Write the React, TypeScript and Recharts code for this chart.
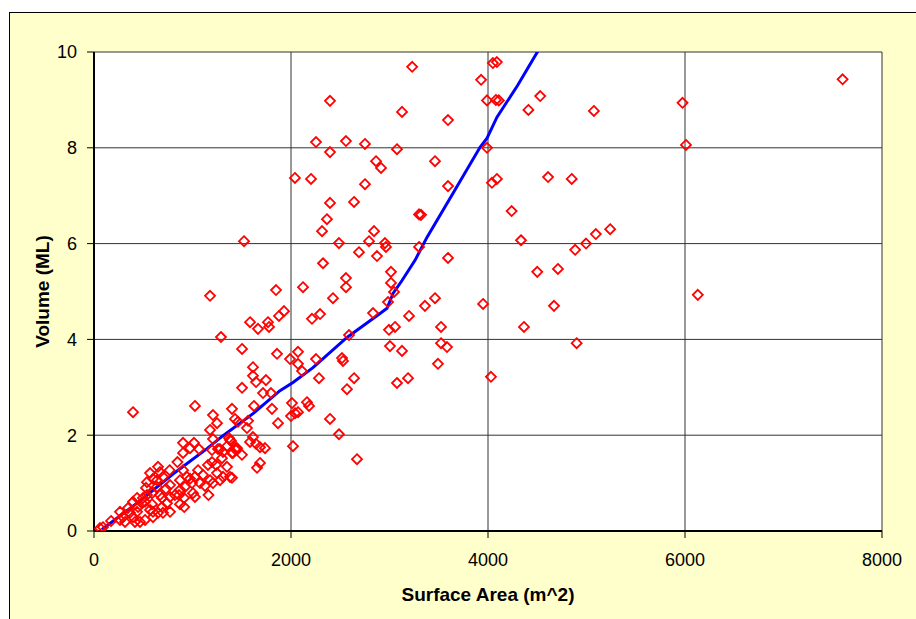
import {
  CartesianGrid,
  ComposedChart,
  Line,
  Scatter,
  XAxis,
  YAxis,
} from 'recharts'

// surveyed dams: surface area (m^2) vs volume (ML)
const damArea = [
  7600, 5975, 6010, 6130, 5075, 5240, 5095, 4995, 4885, 4900, 4850, 4610, 4530, 4410, 4240, 4335, 4365, 4500, 4710, 4670,
  3950, 4030, 4050, 4090, 3930, 3990, 4080, 4110, 3990, 4040, 4090, 2396, 3127, 3594, 2254, 2558, 2751, 2396, 3076, 2863,
  2914, 3462, 2040, 2203, 2751, 3594, 2396, 2640, 2365, 2315, 2843, 3300, 3320, 2487, 2792, 2954, 2964, 2690, 2873, 3300,
  2325, 3594, 3015, 2558, 2558, 2122, 3015, 3046, 2426, 3462, 3360, 2985, 2833, 2295, 2213, 3198, 2589, 2995, 3056, 3523,
  2071, 1990, 2071, 2112, 2254, 2518, 2528, 3005, 3127, 3523, 3584, 3492, 2284, 2640, 3076, 3188, 2568, 2010, 2000, 2041,
  2071, 2162, 2183, 2396, 2487, 2020, 2670, 3230,
  1178, 1848, 1929, 1878, 1584, 1665, 1766, 1777, 1289, 1503, 1858, 1614, 1614, 1645, 1746, 1503, 1716, 1797, 1523,
  1025, 1401, 1624, 1807, 1208, 1249, 1431, 1462, 1564, 1868, 1178, 1553, 904, 1015, 1208, 1370, 1391, 1259, 1442, 1442,
  1584, 1614, 1645, 1685, 1736, 396, 975, 1066, 904, 1198, 1279, 1310, 1350, 1381, 1452, 1502, 1411, 650, 768, 847,
  599, 528, 497, 518, 538, 670, 690, 731, 772, 873, 873, 924, 975, 1025, 863, 914, 1005, 1025, 1056, 1107,
  1178, 1208, 1249, 1279, 1157, 1198, 1350, 1310, 1381, 1401, 1162, 916, 873, 741, 690, 589, 569, 599, 437, 396,
  416, 518, 467, 315, 264, 294, 173, 91, 61, 264, 345, 365, 599, 650, 447, 487, 396, 437, 700, 772,
  589, 640, 538, 640, 700, 569, 670, 772, 822, 944, 995, 1076, 1127, 904, 1239, 1299, 1401, 1685, 1655,
]
const damVolume = [
  9.43, 8.94, 8.06, 4.93, 8.77, 6.3, 6.2, 6.0, 5.87, 3.92, 7.35, 7.39, 9.08, 8.79, 6.68, 6.07, 4.26, 5.41, 5.47, 4.7,
  4.74, 3.22, 9.77, 9.79, 9.42, 8.99, 9.0, 8.99, 8.0, 7.27, 7.35, 8.98, 8.75, 8.58, 8.12, 8.14, 8.08, 7.91, 7.97, 7.72,
  7.58, 7.72, 7.37, 7.35, 7.24, 7.2, 6.85, 6.87, 6.51, 6.26, 6.26, 6.61, 6.6, 6.01, 6.05, 6.01, 5.93, 5.82, 5.74, 5.93,
  5.59, 5.7, 5.41, 5.28, 5.09, 5.09, 5.18, 4.99, 4.86, 4.86, 4.7, 4.78, 4.55, 4.53, 4.43, 4.49, 4.09, 4.2, 4.26, 4.26,
  3.74, 3.59, 3.49, 3.34, 3.59, 3.61, 3.55, 3.86, 3.76, 3.92, 3.84, 3.49, 3.19, 3.19, 3.09, 3.19, 2.96, 2.67, 2.4, 2.46,
  2.48, 2.69, 2.61, 2.34, 2.02, 1.77, 1.5, 9.69,
  4.91, 5.03, 4.59, 4.49, 4.36, 4.22, 4.36, 4.26, 4.05, 3.8, 3.7, 3.42, 3.24, 3.11, 3.15, 2.99, 2.88, 2.88, 6.05,
  2.61, 2.55, 2.61, 2.55, 2.42, 2.25, 2.34, 2.28, 2.3, 2.25, 2.11, 2.15, 1.84, 1.84, 1.92, 1.94, 1.88, 1.71, 1.73, 1.69,
  1.86, 1.96, 1.82, 1.75, 1.73, 2.48, 1.73, 1.71, 1.63, 1.69, 1.71, 1.65, 1.77, 1.9, 1.73, 1.59, 1.63, 1.34, 1.27, 1.44,
  1.09, 0.9, 0.69, 0.61, 0.75, 0.75, 0.69, 0.88, 0.96, 1.06, 0.86, 0.92, 1.09, 1.13, 0.75, 0.69, 0.79, 0.71, 1.27, 1.17,
  1.06, 1.0, 1.21, 1.06, 1.38, 1.44, 1.34, 1.13, 1.13, 1.11, 0.75, 0.5, 0.56, 0.58, 0.5, 0.56, 0.44, 0.29, 0.4, 0.29,
  0.19, 0.23, 0.19, 0.19, 0.23, 0.29, 0.21, 0.08, 0.06, 0.4, 0.48, 0.38, 0.4, 0.38, 0.5, 0.58, 0.61, 0.69, 0.38, 0.4,
  0.79, 0.92, 1.02, 1.06, 1.13, 1.21, 1.23, 0.71, 0.75, 1.13, 1.0, 1.0, 0.94, 1.27, 1.38, 1.52, 1.63, 1.42, 1.32,
]

// fitted curve
const fitArea = [80, 467, 802, 1147, 1310, 1614, 1888, 2020, 2223, 2568, 2904, 2975, 3036, 3127, 3259, 3380, 3645, 3919, 3990, 4091, 4300, 4530]
const fitVolume = [0.03, 0.63, 1.19, 1.72, 1.99, 2.45, 2.93, 3.1, 3.41, 4.04, 4.54, 4.65, 4.96, 5.23, 5.65, 6.13, 7.05, 8.01, 8.2, 8.64, 9.3, 10.1]

const xTicks = [0, 2000, 4000, 6000, 8000]
const yTicks = [0, 2, 4, 6, 8, 10]

const points = damArea.map((x, i) => ({ x, y: damVolume[i] }))
const fit = fitArea.map((x, i) => ({ x, y: fitVolume[i] }))

const font = '"Liberation Sans", Arial, sans-serif'

const Diamond = (props: { cx?: number; cy?: number }) => {
  const { cx, cy } = props
  if (cx == null || cy == null) return <g />
  const r = 5
  return (
    <path
      d={`M${cx},${cy - r}L${cx + r},${cy}L${cx},${cy + r}L${cx - r},${cy}Z`}
      fill="none"
      stroke="#FF0000"
      strokeWidth={1.8}
    />
  )
}

export default function App() {
  return (
    <div
      style={{
        position: 'absolute',
        left: 0,
        top: 0,
        width: 916,
        height: 619,
        overflow: 'hidden',
        background: '#fff',
        fontFamily: font,
      }}
    >
      <div
        style={{
          position: 'absolute',
          left: 9,
          top: 12,
          width: 1000,
          height: 1000,
          background: '#FFFFCC',
          border: '1px solid #000',
        }}
      />
      <div style={{ position: 'absolute', left: 0, top: 0 }}>
        <ComposedChart
          width={916}
          height={619}
          margin={{ top: 52, right: 34, bottom: 8, left: 34 }}
        >
          <CartesianGrid stroke="#333" fill="#fff" fillOpacity={1} />
          <XAxis
            type="number"
            dataKey="x"
            domain={[0, 8000]}
            ticks={xTicks}
            height={80}
            tickSize={7}
            tickMargin={15}
            axisLine={{ stroke: '#000', strokeWidth: 2 }}
            tickLine={{ stroke: '#000' }}
            tick={{ fill: '#000', fontSize: 18, fontFamily: font }}
            label={{
              value: 'Surface Area (m^2)',
              position: 'insideBottom',
              offset: 10,
              style: { fill: '#000', fontSize: 19, fontWeight: 'bold', fontFamily: font },
            }}
          />
          <YAxis
            type="number"
            dataKey="y"
            domain={[0, 10]}
            ticks={yTicks}
            allowDataOverflow
            width={60}
            tickSize={7}
            tickMargin={10}
            axisLine={{ stroke: '#000', strokeWidth: 2 }}
            tickLine={{ stroke: '#000' }}
            tick={{ fill: '#000', fontSize: 18, fontFamily: font }}
            label={{
              value: 'Volume (ML)',
              angle: -90,
              position: 'insideLeft',
              offset: 8,
              style: { fill: '#000', fontSize: 19, fontWeight: 'bold', fontFamily: font, textAnchor: 'middle' },
            }}
          />
          <Scatter data={points} shape={<Diamond />} isAnimationActive={false} />
          <Line
            data={fit}
            dataKey="y"
            type="linear"
            stroke="#0000FF"
            strokeWidth={3}
            dot={false}
            activeDot={false}
            isAnimationActive={false}
          />
        </ComposedChart>
      </div>
    </div>
  )
}
